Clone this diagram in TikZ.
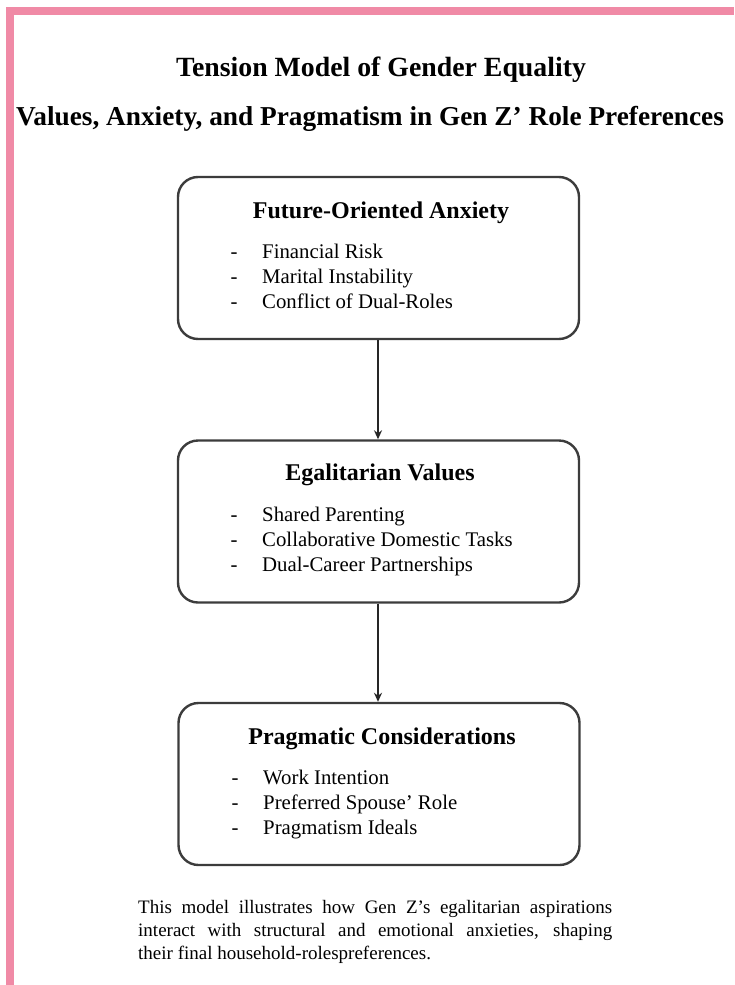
\documentclass[tikz,border=0pt]{standalone}
\usepackage{fontspec}
\setmainfont{Liberation Serif}
\usetikzlibrary{arrows.meta}
\definecolor{pinkbar}{RGB}{240,138,166}
\definecolor{boxline}{RGB}{60,60,60}
\begin{document}
\begin{tikzpicture}[x=1pt,y=-1pt,
  box/.style={draw=boxline,line width=2.4pt,rounded corners=20pt,minimum width=401pt,minimum height=162pt,inner sep=0pt},
  boxtitle/.style={font=\fontsize{24}{28}\selectfont\bfseries,inner sep=0pt},
  item/.style={font=\fontsize{20.8}{24}\selectfont,anchor=mid west,inner sep=0pt},
  dashmark/.style={font=\fontsize{20.8}{24}\selectfont,anchor=mid,inner sep=0pt},
  titletext/.style={font=\fontsize{27.8}{32}\selectfont\bfseries,inner sep=0pt},
  conn/.style={draw=black!85,line width=1.8pt,-{Stealth[length=9pt,width=8pt]}}
]
\clip (0,0) rectangle (734,985);
\fill[white] (0,0) rectangle (734,985);
\fill[pinkbar] (6,7) rectangle (734,15);
\fill[pinkbar] (6,7) rectangle (14,985);

\node[titletext] (t1) at (381,70) {Tension Model of Gender Equality};
\node[titletext,anchor=west,font=\fontsize{27.3}{32}\selectfont\bfseries] (t2) at (16,119) {Values, Anxiety, and Pragmatism in Gen Z’ Role Preferences};

% box 1
\node[box] (b1) at (378.5,258) {};
\node[boxtitle] (b1t) at (381,213) {Future-Oriented Anxiety};
\node[dashmark] (b1d1) at (234,256) {-};
\node[dashmark] (b1d2) at (234,281) {-};
\node[dashmark] (b1d3) at (234,306) {-};
\node[item] (b1i1) at (262,256) {Financial Risk};
\node[item] (b1i2) at (262,281) {Marital Instability};
\node[item] (b1i3) at (262,306) {Conflict of Dual-Roles};

% box 2
\node[box] (b2) at (378.5,521.5) {};
\node[boxtitle] (b2t) at (380,475) {Egalitarian Values};
\node[dashmark] (b2d1) at (234,519) {-};
\node[dashmark] (b2d2) at (234,544) {-};
\node[dashmark] (b2d3) at (234,569) {-};
\node[item] (b2i1) at (262,519) {Shared Parenting};
\node[item] (b2i2) at (262,544) {Collaborative Domestic Tasks};
\node[item] (b2i3) at (262,569) {Dual-Career Partnerships};

% box 3
\node[box] (b3) at (379,784) {};
\node[boxtitle] (b3t) at (382,739) {Pragmatic Considerations};
\node[dashmark] (b3d1) at (235,782) {-};
\node[dashmark] (b3d2) at (235,807) {-};
\node[dashmark] (b3d3) at (235,832) {-};
\node[item] (b3i1) at (263,782) {Work Intention};
\node[item] (b3i2) at (263,807) {Preferred Spouse’ Role};
\node[item] (b3i3) at (263,832) {Pragmatism Ideals};

\draw[conn] (b1.south -| 378,0) -- (b2.north -| 378,0);
\draw[conn] (b2.south -| 378,0) -- (b3.north -| 378,0);

\node[anchor=north west,inner sep=0pt,text width=474pt,align=justify,
  font=\fontsize{19}{23}\selectfont] (cap) at (138,900)
  {This model illustrates how Gen Z’s egalitarian aspirations\linebreak interact with structural and emotional anxieties, shaping\linebreak their final household-rolespreferences.};
\end{tikzpicture}
\end{document}
